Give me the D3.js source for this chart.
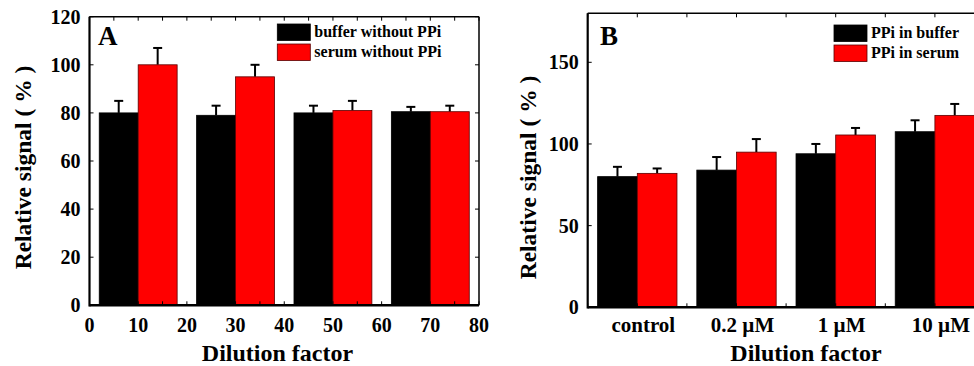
<!DOCTYPE html>
<html><head><meta charset="utf-8">
<script src="https://cdn.jsdelivr.net/npm/d3@7"></script>
<style>
html,body{margin:0;padding:0;background:#fff;}
</style></head>
<body><svg id="c" width="974" height="366"></svg>
<script>
// ---- Panel A data ----
const dilutionA = [10, 30, 50, 70];
const bufferA = [80, 79, 80, 80.5];
const bufferAErr = [5, 4, 3, 2];
const serumA = [100, 95, 81, 80.5];
const serumAErr = [7, 5, 4, 2.5];
const xTicksA = [0, 10, 20, 30, 40, 50, 60, 70, 80];
const yTicksA = [0, 20, 40, 60, 80, 100, 120];
const legendA = ["buffer without PPi", "serum without PPi"];

// ---- Panel B data ----
const categoriesB = ["control", "0.2 \u00B5M", "1 \u00B5M", "10 \u00B5M"];
const bufferB = [80, 84, 94, 107.5];
const bufferBErr = [6, 8, 6, 7];
const serumB = [82, 95, 105.5, 117.5];
const serumBErr = [3, 8, 4.3, 7];
const yTicksB = [0, 50, 100, 150];
const legendB = ["PPi in buffer", "PPi in serum"];

const colors = ["#000000", "#ff0000"];
const FONT = "'Liberation Serif', 'Times New Roman', Tinos, serif";
const svg = d3.select("#c");

function txt(g) {
  return g.append("text").attr("font-family", FONT).attr("font-weight", "bold").attr("fill", "#000");
}

function panel(cfg) {
  const g = svg.append("g");
  const x = cfg.x, y = cfg.y;
  const [x0, x1] = x.range();
  const [y0, y1] = y.range();
  cfg.series.forEach((s, si) => {
    const bw = cfg.barW;
    s.vals.forEach((v, i) => {
      const cx = cfg.centers[i];
      const left = si === 0 ? cx - bw : cx;
      const right = si === 0 ? cx : cx + bw;
      const mid = (left + right) / 2;
      g.append("line").attr("x1", x(mid)).attr("x2", x(mid))
        .attr("y1", y(v)).attr("y2", y(v + s.err[i]))
        .attr("stroke", "#000").attr("stroke-width", 2);
      g.append("line").attr("x1", x(mid) - 4.5).attr("x2", x(mid) + 4.5)
        .attr("y1", y(v + s.err[i])).attr("y2", y(v + s.err[i]))
        .attr("stroke", "#000").attr("stroke-width", 2);
      g.append("rect").attr("x", x(left)).attr("width", x(right) - x(left))
        .attr("y", y(v)).attr("height", y(0) - y(v))
        .attr("fill", colors[si])
        .attr("stroke", si === 0 ? "#000" : "#5a0000").attr("stroke-width", 0.8);
    });
  });
  const tl = 4;
  cfg.xMinor.forEach(t => {
    g.append("line").attr("x1", x(t)).attr("x2", x(t)).attr("y1", y0).attr("y2", y0 - tl).attr("stroke", "#000").attr("stroke-width", 1);
    g.append("line").attr("x1", x(t)).attr("x2", x(t)).attr("y1", y1).attr("y2", y1 + tl).attr("stroke", "#000").attr("stroke-width", 1);
  });
  cfg.yTicks.forEach(t => {
    g.append("line").attr("x1", x0).attr("x2", x0 + tl).attr("y1", y(t)).attr("y2", y(t)).attr("stroke", "#000").attr("stroke-width", 1);
    g.append("line").attr("x1", x1).attr("x2", x1 - tl).attr("y1", y(t)).attr("y2", y(t)).attr("stroke", "#000").attr("stroke-width", 1);
  });
  g.append("line").attr("x1", x0).attr("x2", x1).attr("y1", y1).attr("y2", y1).attr("stroke", "#000").attr("stroke-width", 1.5);
  g.append("line").attr("x1", x1).attr("x2", x1).attr("y1", y0).attr("y2", y1).attr("stroke", "#000").attr("stroke-width", 1.5);
  g.append("line").attr("x1", x0).attr("x2", x1).attr("y1", y0).attr("y2", y0).attr("stroke", "#000").attr("stroke-width", 2.5);
  g.append("line").attr("x1", x0).attr("x2", x0).attr("y1", y0 + 1.2).attr("y2", y1).attr("stroke", "#000").attr("stroke-width", 2.2);

  cfg.yTicks.forEach(t => {
    txt(g).attr("x", x0 - 9).attr("y", y(t)).attr("dy", "0.35em")
      .attr("text-anchor", "end").attr("font-size", 20).text(t);
  });
  cfg.xLabels.forEach(d => {
    txt(g).attr("x", x(d.v) + (cfg.xLabelDx || 0)).attr("y", 331.5)
      .attr("text-anchor", "middle").attr("font-size", cfg.xLabelSize).text(d.t);
  });
  txt(g).attr("x", cfg.xTitleX).attr("y", 361).attr("text-anchor", "middle")
    .attr("font-size", 24).text("Dilution factor");
  txt(g).attr("transform", `translate(${cfg.yTitleX},${cfg.yTitleY}) rotate(-90)`)
    .attr("text-anchor", "middle").attr("font-size", 23.5).text("Relative signal ( % )");
  txt(g).attr("x", cfg.letterX).attr("y", 45).attr("font-size", 27).text(cfg.letter);
  cfg.legend.forEach((l, i) => {
    g.append("rect").attr("x", cfg.legX).attr("y", cfg.legY + i * 20).attr("width", 33).attr("height", 16.5)
      .attr("fill", colors[i]).attr("stroke", i === 0 ? "#000" : "#5a0000").attr("stroke-width", 0.8);
    txt(g).attr("x", cfg.legX + 37).attr("y", cfg.legY + 13 + i * 20)
      .attr("font-size", 16).text(l);
  });
}

const xA = d3.scaleLinear().domain([0, 80]).range([89.5, 479]);
const yA = d3.scaleLinear().domain([0, 120]).range([305.3, 16.7]);
panel({
  x: xA, y: yA, barW: 8, centers: dilutionA,
  series: [{ vals: bufferA, err: bufferAErr }, { vals: serumA, err: serumAErr }],
  xMinor: d3.range(0, 81, 5), yTicks: yTicksA,
  xLabels: xTicksA.map(v => ({ v, t: v })), xLabelSize: 20,
  xTitleX: 277.5, yTitleX: 31, yTitleY: 167.5,
  letter: "A", letterX: 98, legend: legendA, legX: 277.3, legY: 24
});

const xB = d3.scaleLinear().domain([0, 8]).range([587.7, 984.5]);
const yB = d3.scaleLinear().domain([0, 180]).range([307.3, 13.3]);
const centersB = categoriesB.map((c, i) => 1 + 2 * i);
panel({
  x: xB, y: yB, barW: 0.8, centers: centersB,
  series: [{ vals: bufferB, err: bufferBErr }, { vals: serumB, err: serumBErr }],
  xMinor: d3.range(0, 9, 1), yTicks: yTicksB,
  xLabels: categoriesB.map((t, i) => ({ v: centersB[i], t })), xLabelDx: 6, xLabelSize: 21,
  xTitleX: 806, yTitleX: 536, yTitleY: 177.5,
  letter: "B", letterX: 600, legend: legendB, legX: 834, legY: 25
});
</script></body></html>
